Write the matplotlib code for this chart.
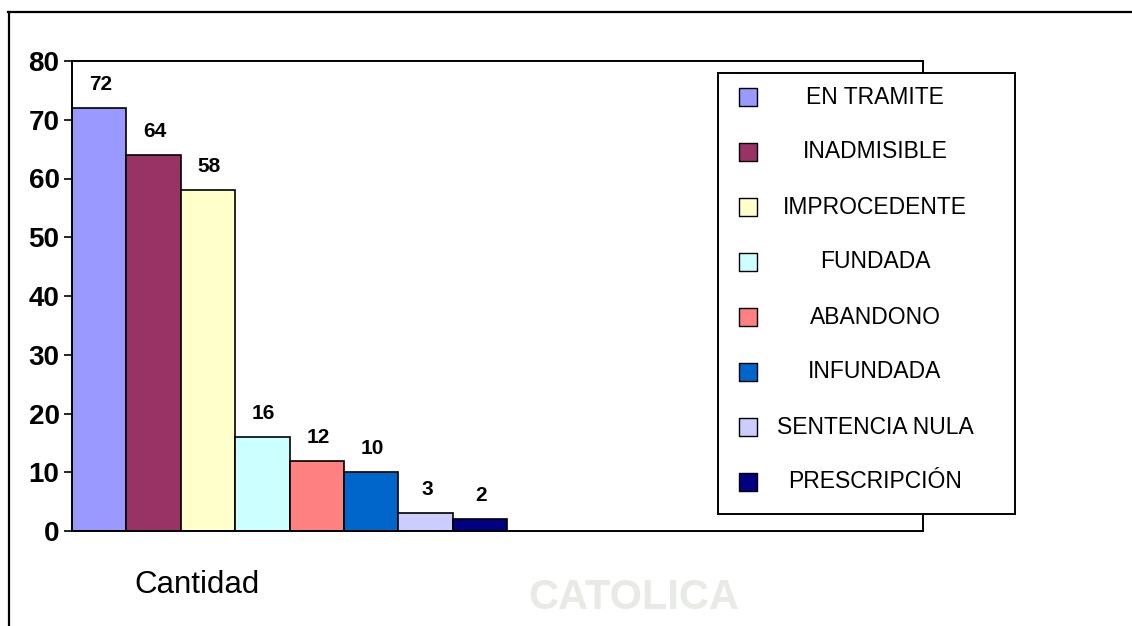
import matplotlib.pyplot as plt
from matplotlib.lines import Line2D
import numpy as np

plt.rcParams['font.family'] = ['Liberation Sans', 'DejaVu Sans']

# Datos del grafico
categorias = ['EN TRAMITE', 'INADMISIBLE', 'IMPROCEDENTE', 'FUNDADA',
              'ABANDONO', 'INFUNDADA', 'SENTENCIA NULA', 'PRESCRIPCIÓN']
cantidades = [72, 64, 58, 16, 12, 10, 3, 2]
colores = ['#9999FF', '#993366', '#FFFFCC', '#CCFFFF',
           '#FF8080', '#0066CC', '#CCCCFF', '#000080']
grupo = 'Cantidad'
yticks = [0, 10, 20, 30, 40, 50, 60, 70, 80]

W, H = 1132, 626
fig = plt.figure(figsize=(W / 100, H / 100), dpi=100)

# marca de agua de fondo
fig.text(0.56, 0.012, 'CATOLICA', color='#e8eae6', fontsize=30,
         fontweight='bold', ha='center', va='bottom', zorder=0)

# marco exterior
fig.add_artist(Line2D([8 / W, 1], [1 - 12 / H, 1 - 12 / H], color='black', lw=1.6))
fig.add_artist(Line2D([9 / W, 9 / W], [0, 1 - 12 / H], color='black', lw=1.6))

# area del grafico
ax = fig.add_axes([72 / W, 1 - 531 / H, (923 - 72) / W, (531 - 61) / H])
ax.patch.set_alpha(0)
x = np.arange(len(cantidades)) + 0.5
bars = ax.bar(x, cantidades, width=1.0, color=colores, edgecolor='black', linewidth=1.2)
for xi, v in zip(x, cantidades):
    ax.annotate(str(v), (xi, v), xytext=(1, 10), textcoords='offset points',
                ha='center', va='bottom', fontsize=15, fontweight='bold')

ax.set_xlim(0, (923 - 72) / 54.4)
ax.set_ylim(0, 80)
ax.set_yticks(yticks)
ax.set_yticklabels([str(t) for t in yticks], fontsize=20, fontweight='bold')
ax.tick_params(axis='y', direction='out', length=6, width=1.2, pad=3)
ax.set_xticks([2.3])
ax.set_xticklabels([grupo], fontsize=22.5)
ax.tick_params(axis='x', length=0, pad=28)
for s in ax.spines.values():
    s.set_linewidth(1.4)

# leyenda
lg = fig.add_axes([718 / W, 1 - 514 / H, (1015 - 718) / W, (514 - 73) / H])
lg.set_xlim(0, 297)
lg.set_ylim(441, 0)
lg.set_xticks([])
lg.set_yticks([])
for s in lg.spines.values():
    s.set_linewidth(1.4)
for i, (nombre, c) in enumerate(zip(categorias, colores)):
    yy = 24 + 55 * i
    lg.scatter([30], [yy], marker='s', s=150, color=c, edgecolor='black', linewidth=1.0)
    lg.text(157, yy, nombre, fontsize=16.5, ha='center', va='center')

fig.savefig('out.png', dpi=100)
